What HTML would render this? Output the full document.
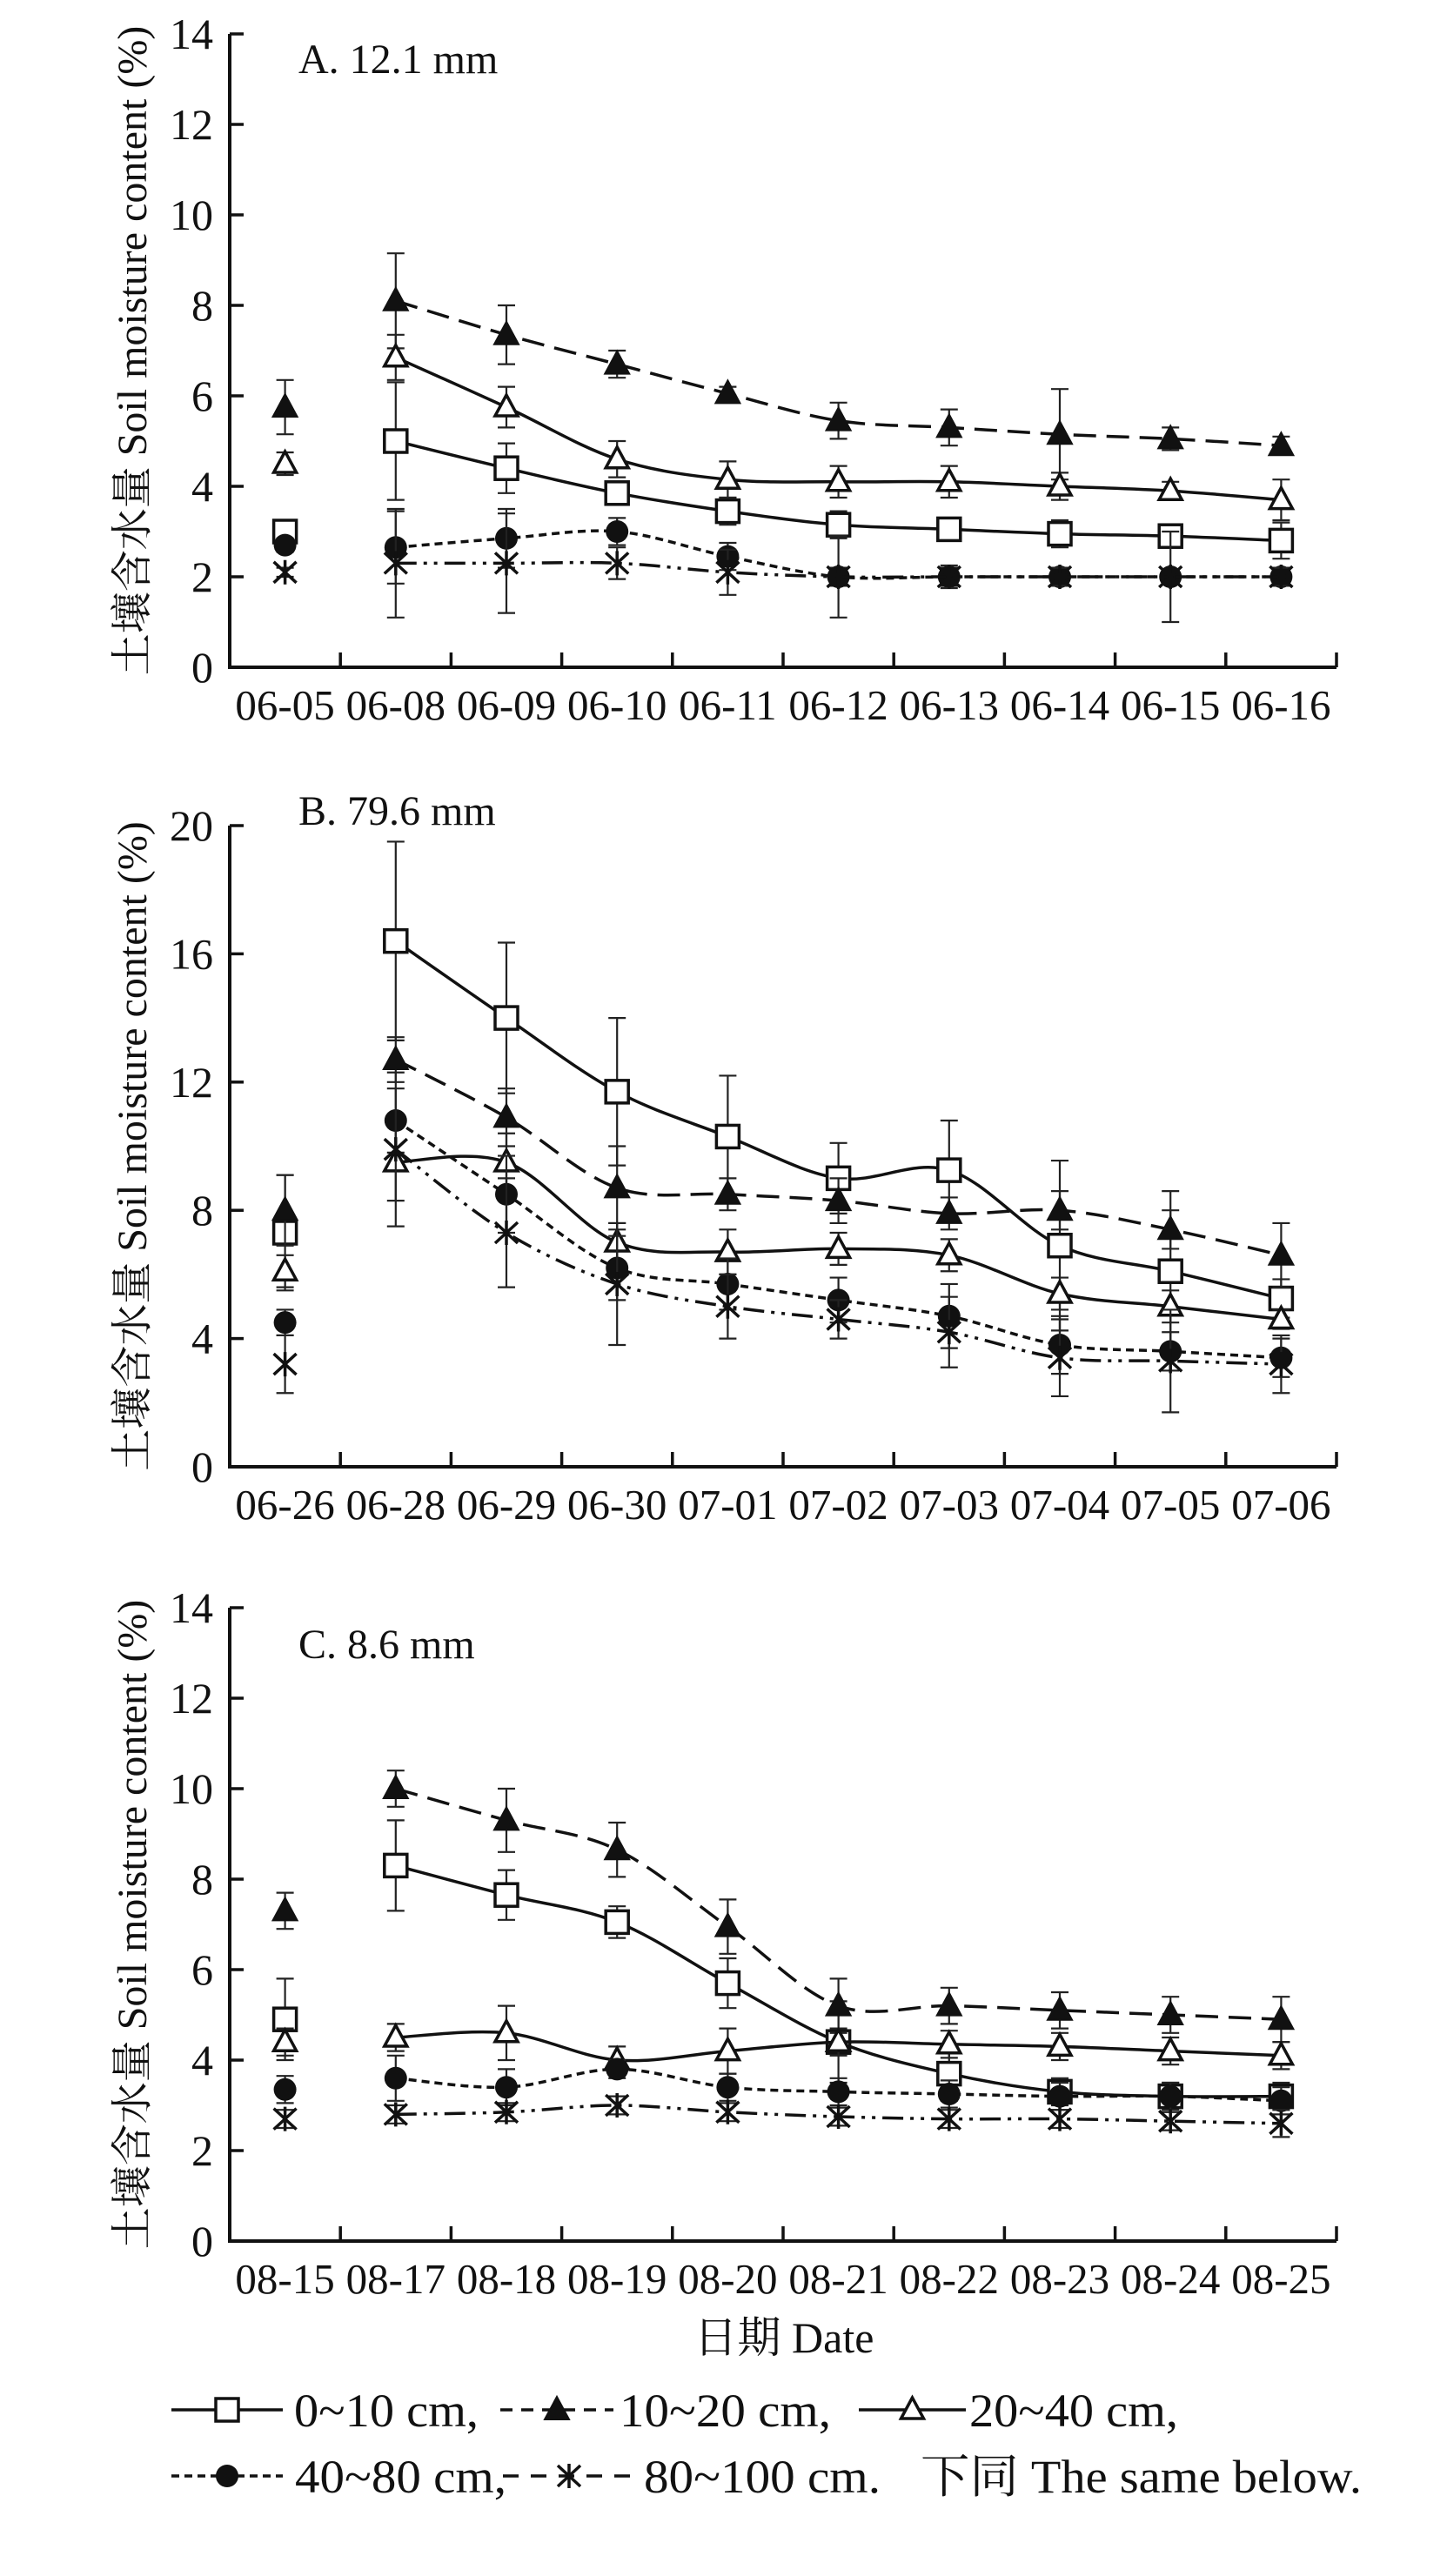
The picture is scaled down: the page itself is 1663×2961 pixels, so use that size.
<!DOCTYPE html>
<html><head><meta charset="utf-8"><style>
html,body{margin:0;padding:0;background:#fff;}
svg{display:block;}
text{font-family:"Liberation Serif","Noto Serif CJK SC","Noto Sans CJK SC",serif;fill:#111;}
</style></head><body>
<svg id="chart" xmlns="http://www.w3.org/2000/svg" width="1663" height="2961" viewBox="0 0 1663 2961">
<rect width="1663" height="2961" fill="#fff"/>
<g id="root"></g>
</svg>
<script>
// ---- data: panel A ----
const catsA = ["06-05","06-08","06-09","06-10","06-11","06-12","06-13","06-14","06-15","06-16"];
const a0 = [3.0,5.0,4.4,3.85,3.45,3.15,3.05,2.95,2.9,2.8];
const a1 = [5.75,8.1,7.35,6.7,6.05,5.45,5.3,5.15,5.05,4.9];
const a2 = [4.5,6.85,5.75,4.6,4.15,4.1,4.1,4.0,3.9,3.7];
const a3 = [2.7,2.65,2.85,3.0,2.45,2.0,2.0,2.0,2.0,2.0];
const a4 = [2.1,2.3,2.3,2.3,2.1,2.0,2.0,2.0,2.0,2.0];
const a0e = [0.15,1.3,0.55,0.2,0.3,0.3,0.15,0.3,0.2,0.4];
const a1e = [0.6,1.05,0.65,0.3,0.15,0.4,0.4,1.0,0.25,0.2];
const a2e = [0.25,0.5,0.45,0.4,0.4,0.35,0.35,0.3,0.2,0.45];
const a3e = [0.15,0.8,0.65,0.3,0.3,0.2,0.2,0.15,0.15,0.15];
const a4e = [0.1,1.2,1.1,0.35,0.5,0.9,0.25,0.2,1.0,0.2];
const ticksA = [0,2,4,6,8,10,12,14];
// ---- data: panel B ----
const catsB = ["06-26","06-28","06-29","06-30","07-01","07-02","07-03","07-04","07-05","07-06"];
const b0 = [7.3,16.4,14.0,11.7,10.3,9.0,9.25,6.9,6.1,5.25];
const b1 = [8.0,12.7,10.9,8.7,8.5,8.3,7.9,8.0,7.4,6.6];
const b2 = [6.1,9.5,9.5,7.0,6.7,6.8,6.6,5.4,5.0,4.6];
const b3 = [4.5,10.8,8.5,6.2,5.7,5.2,4.7,3.8,3.6,3.4];
const b4 = [3.2,9.9,7.3,5.7,5.0,4.6,4.2,3.4,3.3,3.2];
const b0e = [1.8,3.1,2.35,2.3,1.9,1.1,1.55,2.65,2.5,0.6];
const b1e = [1.1,0.7,0.9,1.3,0.5,0.7,0.5,0.6,0.6,1.0];
const b2e = [0.5,1.2,0.9,0.6,0.7,0.5,0.5,0.5,0.5,0.3];
const b3e = [0.4,1.0,1.2,1.0,0.8,0.7,1.0,0.9,0.6,0.6];
const b4e = [0.9,2.4,1.7,1.9,1.0,0.6,1.1,1.2,1.6,0.9];
const ticksB = [0,4,8,12,16,20];
// ---- data: panel C ----
const catsC = ["08-15","08-17","08-18","08-19","08-20","08-21","08-22","08-23","08-24","08-25"];
const c0 = [4.9,8.3,7.65,7.05,5.7,4.4,3.7,3.3,3.2,3.2];
const c1 = [7.3,10.0,9.3,8.65,6.95,5.2,5.2,5.1,5.0,4.9];
const c2 = [4.4,4.5,4.6,4.0,4.2,4.4,4.35,4.3,4.2,4.1];
const c3 = [3.35,3.6,3.4,3.8,3.4,3.3,3.25,3.2,3.2,3.1];
const c4 = [2.7,2.8,2.85,3.0,2.85,2.75,2.7,2.7,2.65,2.6];
const c0e = [0.9,1.0,0.55,0.35,0.55,0.9,0.6,0.3,0.3,0.3];
const c1e = [0.4,0.4,0.7,0.6,0.6,0.6,0.4,0.4,0.4,0.5];
const c2e = [0.3,0.3,0.6,0.3,0.5,0.3,0.3,0.3,0.3,0.3];
const c3e = [0.3,0.5,0.4,0.2,0.3,0.3,0.3,0.3,0.3,0.3];
const c4e = [0.2,0.2,0.2,0.2,0.2,0.2,0.2,0.2,0.2,0.3];
const ticksC = [0,2,4,6,8,10,12,14];

const NS = "http://www.w3.org/2000/svg";
const root = document.getElementById("root");
function mk(tag, attrs, parent){
  const e = document.createElementNS(NS, tag);
  for (const k in attrs) e.setAttribute(k, attrs[k]);
  (parent||root).appendChild(e);
  return e;
}
const X0 = 264, CW = 127.2, NC = 10;
const styles = [
  {dash:"none", marker:"square"},
  {dash:"26,12", marker:"tri-filled"},
  {dash:"none", marker:"tri-open"},
  {dash:"9,6", marker:"circle"},
  {dash:"24,8,4,8,4,8", marker:"star"}
];
const seriesNames = ["0-10cm","10-20cm","20-40cm","40-80cm","80-100cm"];

function marker(g, type, cx, cy){
  let m;
  if (type==="square") m = mk("rect",{x:cx-13,y:cy-13,width:26,height:26,fill:"#fff",stroke:"#111","stroke-width":3.5},g);
  else if (type==="tri-filled") m = mk("polygon",{points:`${cx},${cy-15} ${cx-14},${cy+11} ${cx+14},${cy+11}`,fill:"#111",stroke:"#111","stroke-width":2},g);
  else if (type==="tri-open") m = mk("polygon",{points:`${cx},${cy-14} ${cx-13},${cy+10} ${cx+13},${cy+10}`,fill:"#fff",stroke:"#111","stroke-width":3.5},g);
  else if (type==="circle") m = mk("circle",{cx:cx,cy:cy,r:13,fill:"#111"},g);
  else {
    m = mk("g",{},g);
    mk("path",{d:`M${cx-13},${cy-12}L${cx+13},${cy+12}M${cx+13},${cy-12}L${cx-13},${cy+12}M${cx},${cy-14}L${cx},${cy+14}`,stroke:"#111","stroke-width":3.5,fill:"none"},m);
  }
  return m;
}

function smoothPath(pts){
  let d = `M${pts[0][0]},${pts[0][1]}`;
  for (let i=0;i<pts.length-1;i++){
    const p0 = pts[Math.max(0,i-1)], p1 = pts[i], p2 = pts[i+1], p3 = pts[Math.min(pts.length-1,i+2)];
    const t = 0.18*6/6;
    const c1x = p1[0]+(p2[0]-p0[0])/6, c1y = p1[1]+(p2[1]-p0[1])/6;
    const c2x = p2[0]-(p3[0]-p1[0])/6, c2y = p2[1]-(p3[1]-p1[1])/6;
    d += ` C${c1x},${c1y} ${c2x},${c2y} ${p2[0]},${p2[1]}`;
  }
  return d;
}

function panel(id, cats, series, errs, ticks, ymax, yTop, yBot, label, labelY){
  const g = mk("g",{});
  
  
  const X1 = X0 + CW*NC;
  const yS = v => yBot - (v/ymax)*(yBot-yTop);
  const xS = i => X0 + CW*(i+0.5);
  // axes
  const ax = mk("path",{d:`M${X0},${yTop}L${X0},${yBot}L${X1},${yBot}`,stroke:"#111","stroke-width":4,fill:"none"},g);
  
  
  ticks.forEach(t=>{
    mk("line",{x1:X0,x2:X0+16,y1:yS(t),y2:yS(t),stroke:"#111","stroke-width":3.5},g);
    const tl = mk("text",{x:245,y:yS(t)+17,"text-anchor":"end","font-size":50},g);
    tl.textContent = t;
    
    
  });
  for (let i=1;i<=NC;i++){
    mk("line",{x1:X0+CW*i,x2:X0+CW*i,y1:yBot,y2:yBot-17,stroke:"#111","stroke-width":3.5},g);
  }
  cats.forEach((c,i)=>{
    const tl = mk("text",{x:xS(i),y:yBot+60,"text-anchor":"middle","font-size":49},g);
    tl.textContent = c;
    
    
  });
  const yt = mk("text",{x:0,y:0,"text-anchor":"middle","font-size":48,transform:`translate(168,${(yTop+yBot)/2}) rotate(-90)`},g);
  yt.textContent = "土壤含水量 Soil moisture content (%)";
  
  
  const pl = mk("text",{x:343,y:labelY,"font-size":48},g);
  pl.textContent = label;
  
  
  // series
  series.forEach((vals,s)=>{
    const sg = mk("g",{},g);
    
    
    const pts = vals.slice(1).map((v,i)=>[xS(i+1), yS(v)]);
    const ln = mk("path",{d:smoothPath(pts),fill:"none",stroke:"#111","stroke-width":3.5,"stroke-dasharray":styles[s].dash},sg);
    
    
    vals.forEach((v,i)=>{
      const e = errs[s][i];
      const cx = xS(i);
      const eb = mk("path",{d:`M${cx},${yS(v+e)}L${cx},${yS(v-e)}M${cx-10},${yS(v+e)}L${cx+10},${yS(v+e)}M${cx-10},${yS(v-e)}L${cx+10},${yS(v-e)}`,stroke:"#222","stroke-width":2.2,fill:"none"},sg);
      
      
    });
    vals.forEach((v,i)=>{
      const m = marker(sg, styles[s].marker, xS(i), yS(v));
      
      
    });
  });
}

panel("a", catsA, [a0,a1,a2,a3,a4], [a0e,a1e,a2e,a3e,a4e], ticksA, 14, 39, 767, "A. 12.1 mm", 84);
panel("b", catsB, [b0,b1,b2,b3,b4], [b0e,b1e,b2e,b3e,b4e], ticksB, 20, 949, 1686, "B. 79.6 mm", 948);
panel("c", catsC, [c0,c1,c2,c3,c4], [c0e,c1e,c2e,c3e,c4e], ticksC, 14, 1848, 2576, "C. 8.6 mm", 1906);

const xt = mk("text",{x:901,y:2704,"text-anchor":"middle","font-size":50});
xt.textContent = "日期 Date";



// legend
const legItems = [
  {s:0, x1:197, x2:325, tx:338, y:2770, txt:"0~10 cm,", w:212},
  {s:1, x1:575, x2:705, tx:712, y:2770, txt:"10~20 cm,", w:243},
  {s:2, x1:987, x2:1110, tx:1114, y:2770, txt:"20~40 cm,", w:240},
  {s:3, x1:197, x2:325, tx:339, y:2846, txt:"40~80 cm,", w:243},
  {s:4, x1:578, x2:730, tx:740, y:2846, txt:"80~100 cm.", w:272}
];
const lg = mk("g",{});


legItems.forEach(it=>{
  const eg = mk("g",{},lg);
  
  
  mk("line",{x1:it.x1,x2:it.x2,y1:it.y,y2:it.y,stroke:"#111","stroke-width":3.5,"stroke-dasharray":it.s===1?"14,10":(it.s===3?"9,6":(it.s===4?"18,14":"none"))},eg);
  marker(eg, styles[it.s].marker, (it.x1+it.x2)/2, it.y);
  const t = mk("text",{x:it.tx,y:it.y+19,"font-size":54,textLength:it.w,lengthAdjust:"spacingAndGlyphs"},eg);
  t.textContent = it.txt;
});
const note = mk("text",{x:1058,y:2865,"font-size":54,textLength:507,lengthAdjust:"spacingAndGlyphs"},lg);
note.textContent = "下同 The same below.";


</script>
</body></html>
